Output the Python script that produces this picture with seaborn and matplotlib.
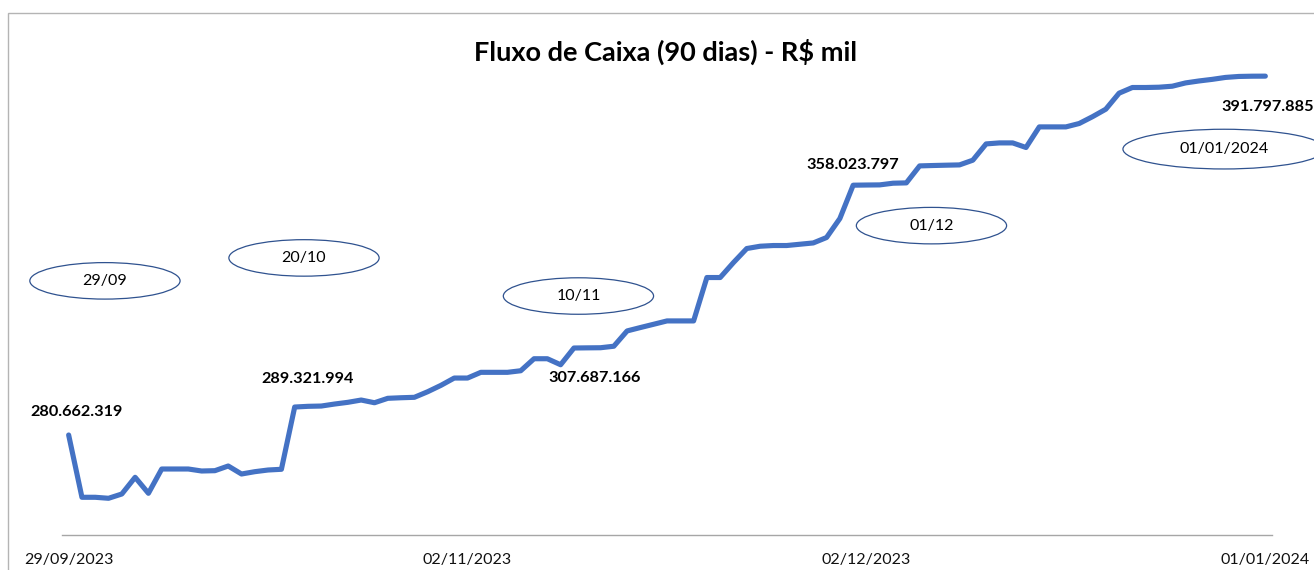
import numpy as np
import pandas as pd
import matplotlib.pyplot as plt
import seaborn as sns
from matplotlib.patches import Ellipse, Rectangle

# Daily cash flow balance (R$ millions), 91 points
saldo = [
    280.662319, 261.37, 261.37, 261.06, 262.39, 267.56, 262.61, 270.13, 270.13, 270.13,
    269.51, 269.61, 271.06, 268.58, 269.30, 269.82, 270.04, 289.321994, 289.54, 289.63,
    290.25, 290.78, 291.49, 290.65, 292.02, 292.20, 292.33, 294.06, 296.04, 298.30,
    298.30, 300.07, 300.07, 300.07, 300.56, 304.28, 304.28, 302.42, 307.60, 307.65,
    307.687166, 308.15, 312.89, 313.94, 314.96, 315.99, 315.99, 315.99, 329.43, 329.43,
    334.07, 338.41, 339.12, 339.34, 339.34, 339.74, 340.14, 341.82, 347.70, 358.023797,
    358.08, 358.12, 358.64, 358.74, 364.00, 364.12, 364.22, 364.31, 365.77, 370.81,
    371.12, 371.12, 369.70, 376.08, 376.08, 376.08, 377.13, 379.24, 381.56, 386.52,
    388.28, 388.28, 388.37, 388.68, 389.70, 390.30, 390.80, 391.40, 391.70, 391.78,
    391.797885,
]
dia = list(range(len(saldo)))

# x-axis labels (every 30th point)
tick_idx = [0, 30, 60, 90]
tick_txt = ["29/09/2023", "02/11/2023", "02/12/2023", "01/01/2024"]

# points with value labels
label_idx = [0, 17, 40, 59, 90]

# date bubbles drawn on the chart
bolha_txt = ["29/09", "20/10", "10/11", "01/12", "01/01/2024"]
bolha_x = [2.73, 17.70, 38.34, 64.89, 86.89]
bolha_y = [328.4, 335.5, 323.7, 345.5, 369.2]

df = pd.DataFrame({"dia": dia, "saldo": saldo})

sns.set_style("white")
plt.rcParams['font.family'] = ['Lato', 'DejaVu Sans']

fig = plt.figure(figsize=(13.14, 5.70), dpi=100)
ax = fig.add_axes([62 / 1314, 1 - 535 / 570, 1210 / 1314, 465 / 570])

sns.lineplot(data=df, x="dia", y="saldo", ax=ax, color="#4472C4", linewidth=3.7,
             solid_joinstyle="round", solid_capstyle="round")

ax.set_xlim(-0.5, 90.5)
ax.set_ylim(249.69, 393.7)

# value labels, Brazilian thousand separator
offsets = {0: (6, 16.5), 17: (9.5, 20), 40: (-4, -22), 59: (0, 14.5), 90: (1.5, -22)}
for i in label_idx:
    txt = f"{int(round(saldo[i] * 1e6)):,}".replace(",", ".")
    ax.annotate(txt, (i, saldo[i]), xytext=offsets[i], textcoords="offset points",
                ha="center", va="center", fontsize=11.7, fontweight="bold", color="black")

# ellipses with dates
for t, bx, by in zip(bolha_txt, bolha_x, bolha_y):
    w = 15.2 if len(t) > 5 else 11.3
    h = 12.3 if len(t) > 5 else 11.3
    ax.add_patch(Ellipse((bx, by), w, h, facecolor="white", edgecolor="#2F528F",
                         linewidth=0.9, clip_on=False, zorder=3))
    ax.text(bx, by, t, ha="center", va="center", fontsize=11.5, color="black",
            zorder=4, clip_on=False)

# axis styling
for s in ["top", "right", "left"]:
    ax.spines[s].set_visible(False)
ax.spines["bottom"].set_color("#a6a6a6")
ax.spines["bottom"].set_linewidth(1.0)
ax.set_yticks([])
ax.set_xticks(tick_idx)
ax.set_xticklabels(tick_txt, fontsize=11.5, color="#111111")
ax.set_xticks(np.arange(-0.5, 90, 2), minor=True)
ax.tick_params(axis="x", which="major", length=0, pad=13)
ax.tick_params(axis="x", which="minor", length=4.5, width=1, color="#a6a6a6", direction="out")
ax.set_xlabel("")
ax.set_ylabel("")

fig.text(666 / 1314, 1 - 52 / 570, "Fluxo de Caixa (90 dias) - R$ mil", ha="center",
         va="center", fontsize=19.5, fontweight="bold", color="black")

# chart border (partly outside the picture)
fig.add_artist(Rectangle((7.5 / 1314, -0.1), 1.2, 1 - 13.5 / 570 + 0.1,
                         transform=fig.transFigure, fill=False, edgecolor="#b4b4b4",
                         linewidth=1.0, clip_on=False))

fig.savefig("out.png", dpi=100)
